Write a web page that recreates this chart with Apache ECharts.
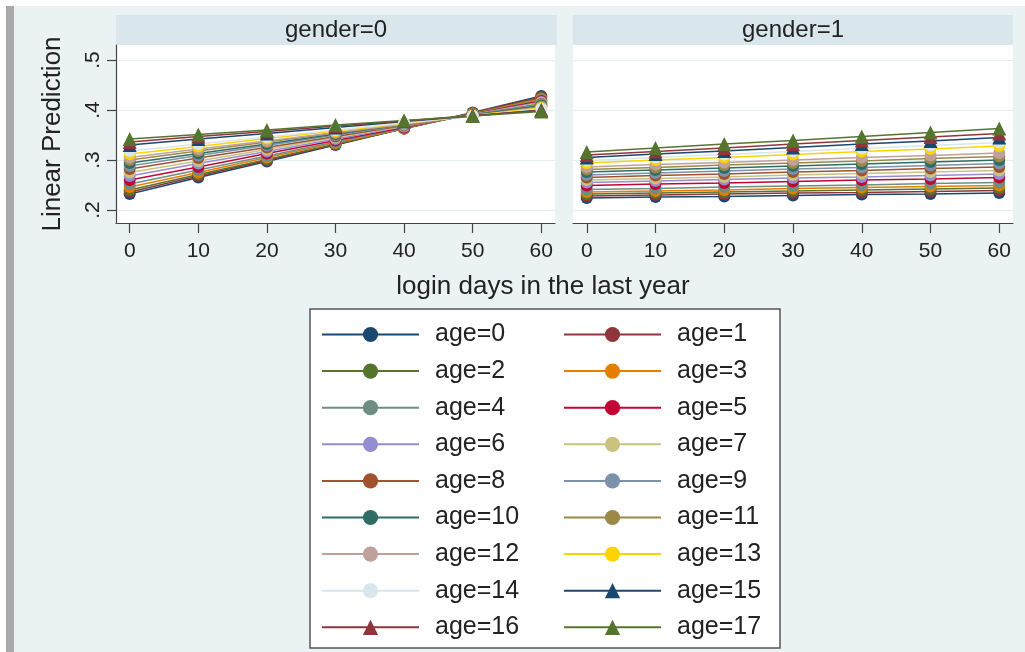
<!DOCTYPE html>
<html>
<head>
<meta charset="utf-8">
<script src="https://cdn.jsdelivr.net/npm/echarts@6/dist/echarts.min.js"></script>
<style>
html,body{margin:0;padding:0;background:#ffffff;}
#chart{width:1025px;height:652px;}
</style>
</head>
<body>
<div id="chart"></div>
<script>
// ---- data ----
const days = [0, 10, 20, 30, 40, 50, 60];
const ageNames = ['age=0','age=1','age=2','age=3','age=4','age=5','age=6','age=7','age=8',
  'age=9','age=10','age=11','age=12','age=13','age=14','age=15','age=16','age=17'];
const panelTitles = ['gender=0', 'gender=1'];
const yTicks = [0.2, 0.3, 0.4, 0.5];
const yTickLabels = ['.2', '.3', '.4', '.5'];
const xTicks = [0, 10, 20, 30, 40, 50, 60];

// gender=0 panel, one row per age, values at days 0..60
const gender0 = [
  [.232,.265,.297,.330,.363,.395,.428],
  [.236,.268,.299,.331,.363,.394,.426],
  [.240,.271,.301,.332,.363,.393,.424],
  [.246,.275,.305,.334,.363,.393,.422],
  [.252,.280,.308,.336,.364,.392,.420],
  [.260,.286,.313,.339,.365,.392,.418],
  [.268,.293,.317,.342,.367,.391,.416],
  [.275,.298,.321,.345,.368,.391,.414],
  [.282,.304,.325,.347,.369,.390,.412],
  [.288,.309,.329,.350,.370,.391,.411],
  [.294,.313,.332,.352,.371,.390,.409],
  [.300,.318,.336,.354,.371,.389,.407],
  [.305,.322,.338,.355,.372,.388,.405],
  [.312,.327,.343,.358,.373,.389,.404],
  [.318,.332,.346,.360,.374,.388,.402],
  [.330,.342,.353,.365,.377,.388,.400],
  [.336,.347,.357,.368,.378,.389,.399],
  [.342,.351,.360,.370,.379,.388,.397]
];
// gender=1 panel
const gender1 = [
  [.224,.226,.227,.229,.231,.232,.234],
  [.228,.230,.232,.234,.235,.237,.239],
  [.232,.234,.236,.238,.240,.242,.244],
  [.236,.238,.240,.243,.245,.247,.249],
  [.241,.243,.246,.248,.250,.253,.255],
  [.249,.252,.254,.257,.260,.262,.265],
  [.255,.258,.261,.264,.266,.269,.272],
  [.260,.263,.266,.270,.273,.276,.279],
  [.265,.269,.272,.276,.279,.283,.286],
  [.270,.274,.278,.282,.285,.289,.293],
  [.276,.280,.284,.288,.292,.296,.300],
  [.281,.285,.290,.294,.298,.303,.307],
  [.286,.291,.295,.300,.305,.309,.314],
  [.294,.300,.305,.311,.317,.322,.328],
  [.299,.305,.311,.317,.323,.329,.335],
  [.305,.312,.318,.325,.332,.338,.345],
  [.310,.317,.324,.332,.339,.346,.353],
  [.316,.324,.332,.339,.347,.355,.363]
];

// ---- styles ----
const colors = ['#1a476f','#90353b','#55752f','#e37e00','#6e8e84','#c10534','#938dd2',
  '#cac27e','#a0522d','#7b92a8','#2d6d66','#9c8847','#bfa19c','#ffd200','#d9e6eb',
  '#1a476f','#90353b','#55752f'];
const symbols = ageNames.map((n, i) => i >= 15 ? 'triangle' : 'circle');
const FONT = '"Liberation Sans", Arial, sans-serif';

const chart = echarts.init(document.getElementById('chart'), null, {renderer: 'canvas'});

const grids = [
  {left: 116, top: 45, width: 439, height: 178},
  {left: 573, top: 45, width: 440, height: 178}
];

function xAxisFor(i) {
  return {
    type: 'value', gridIndex: i, min: -2, max: 62,
    axisLine: {show: true, onZero: false, lineStyle: {color: '#444', width: 1.2}},
    axisTick: {show: true, length: 10, customValues: xTicks, lineStyle: {color: '#444', width: 1.2}},
    axisLabel: {customValues: xTicks, fontSize: 21, color: '#222', margin: 18, fontFamily: FONT},
    splitLine: {show: false}
  };
}
function yAxisFor(i) {
  const a = {
    type: 'value', gridIndex: i, min: 0.174, max: 0.53,
    axisLine: {show: i === 0, onZero: false, lineStyle: {color: '#444', width: 1.2}},
    axisTick: {show: i === 0, length: 9, customValues: yTicks, lineStyle: {color: '#444', width: 1.2}},
    axisLabel: {show: i === 0, customValues: yTicks, rotate: 90, fontSize: 21, color: '#222', margin: 12,
      fontFamily: FONT,
      formatter: v => { const k = yTicks.findIndex(t => Math.abs(t - v) < 1e-9); return k >= 0 ? yTickLabels[k] : ''; }},
    splitLine: {show: true, lineStyle: {color: '#e6eef0', width: 1.2}}
  };
  if (i === 0) {
    a.name = 'Linear Prediction';
    a.nameLocation = 'middle';
    a.nameGap = 50;
    a.nameTextStyle = {fontSize: 26, color: '#222', fontFamily: FONT};
  }
  return a;
}

const series = [];
[gender0, gender1].forEach((panel, p) => {
  panel.forEach((vals, i) => {
    series.push({
      type: 'line', name: ageNames[i], xAxisIndex: p, yAxisIndex: p,
      data: vals.map((v, j) => [days[j], v]),
      symbol: symbols[i], symbolSize: symbols[i] === 'triangle' ? 14 : 12,
      lineStyle: {color: colors[i], width: 1.5},
      itemStyle: {color: colors[i]},
      emphasis: {disabled: true},
      animation: false
    });
  });
});

const legendBase = {
  orient: 'vertical', top: 322, height: 330, itemWidth: 97, itemHeight: 19, itemGap: 11.6,
  padding: 0, selectedMode: false,
  textStyle: {fontSize: 25, color: '#222', fontFamily: FONT, padding: [0, 0, 0, 11]}
};

chart.setOption({
  backgroundColor: '#eaf2f4',
  animation: false,
  textStyle: {fontFamily: FONT},
  grid: grids.map(g => Object.assign({show: true, backgroundColor: '#ffffff', borderWidth: 0}, g)),
  xAxis: [xAxisFor(0), xAxisFor(1)],
  yAxis: [yAxisFor(0), yAxisFor(1)],
  legend: [
    Object.assign({}, legendBase, {left: 321, data: ageNames.filter((n, i) => i % 2 === 0)}),
    Object.assign({}, legendBase, {left: 563, data: ageNames.filter((n, i) => i % 2 === 1)})
  ],
  graphic: [
    {type: 'rect', z: -10, silent: true, shape: {x: 0, y: 0, width: 1025, height: 6}, style: {fill: '#ffffff'}},
    {type: 'rect', z: -10, silent: true, shape: {x: 0, y: 0, width: 6, height: 652}, style: {fill: '#ffffff'}},
    {type: 'rect', z: -9, silent: true, shape: {x: 6, y: 6, width: 8, height: 646}, style: {fill: '#a9a9a9'}},
    {type: 'rect', z: 0, silent: true, shape: {x: 116, y: 15, width: 441, height: 30}, style: {fill: '#d9e6eb'}},
    {type: 'rect', z: 0, silent: true, shape: {x: 573, y: 15, width: 440, height: 30}, style: {fill: '#d9e6eb'}},
    {type: 'text', z: 1, silent: true, x: 336, y: 30, style: {text: panelTitles[0], fontSize: 24, fill: '#222', fontFamily: FONT, textAlign: 'center', textVerticalAlign: 'middle'}},
    {type: 'text', z: 1, silent: true, x: 793, y: 30, style: {text: panelTitles[1], fontSize: 24, fill: '#222', fontFamily: FONT, textAlign: 'center', textVerticalAlign: 'middle'}},
    {type: 'text', z: 1, silent: true, x: 543, y: 287, style: {text: 'login days in the last year', fontSize: 26, fill: '#222', fontFamily: FONT, textAlign: 'center', textVerticalAlign: 'middle'}},
    {type: 'rect', z: 0, silent: true, shape: {x: 310, y: 309, width: 470, height: 339}, style: {fill: '#ffffff', stroke: '#555555', lineWidth: 1.5}}
  ],
  series: series
});
</script>
</body>
</html>
